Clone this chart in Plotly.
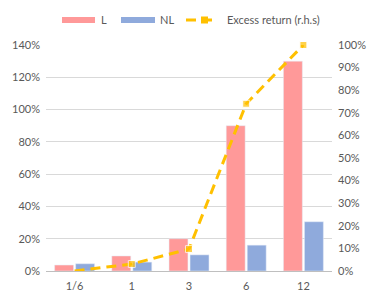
import plotly.graph_objects as go

categories = ["1/6", "1", "3", "6", "12"]
L_values = [0.037, 0.093, 0.20, 0.90, 1.30]
NL_values = [0.045, 0.055, 0.10, 0.16, 0.305]
excess_values = [0.0, 0.031, 0.097, 0.74, 1.00]
series_names = ["L", "NL", "Excess return (r.h.s)"]
colors = ["#FF9999", "#8FAADC", "#FFC000"]

W, H = 378, 303
ML, MR, MT, MB = 46, 46, 45, 32
PW, PH = W - ML - MR, H - MT - MB


def px(x):
    return (x - ML) / PW


def py(y):
    return (H - MB - y) / PH


fig = go.Figure()
fig.add_trace(go.Bar(x=categories, y=L_values, name=series_names[0], marker_color=colors[0]))
fig.add_trace(go.Bar(x=categories, y=NL_values, name=series_names[1], marker_color=colors[1]))
fig.add_trace(go.Scatter(x=categories, y=excess_values, name=series_names[2],
                         yaxis="y2", mode="lines+markers",
                         line=dict(color=colors[2], width=3, dash="10px,6px"),
                         marker=dict(symbol="square", size=[0, 7, 7, 7, 7], color=colors[2]),
                         cliponaxis=False))

font = dict(family="Lato, Open Sans, sans-serif", size=11, color="#595959")

# custom legend (wide swatches like the original)
shapes = [
    dict(type="rect", xref="paper", yref="paper", x0=px(62), x1=px(95), y0=py(23), y1=py(17),
         fillcolor=colors[0], line=dict(width=0)),
    dict(type="rect", xref="paper", yref="paper", x0=px(121), x1=px(155), y0=py(23), y1=py(17),
         fillcolor=colors[1], line=dict(width=0)),
    dict(type="line", xref="paper", yref="paper", x0=px(186), x1=px(218), y0=py(20), y1=py(20),
         line=dict(color=colors[2], width=3, dash="10px,6px")),
    dict(type="rect", xref="paper", yref="paper", x0=px(201), x1=px(208), y0=py(23.5), y1=py(16.5),
         fillcolor=colors[2], line=dict(width=0)),
]
annotations = [
    dict(text=series_names[0], xref="paper", yref="paper", x=px(99), y=py(19), xanchor="left",
         yanchor="middle", showarrow=False, font=font),
    dict(text=series_names[1], xref="paper", yref="paper", x=px(158), y=py(19), xanchor="left",
         yanchor="middle", showarrow=False, font=font),
    dict(text=series_names[2], xref="paper", yref="paper", x=px(225), y=py(19), xanchor="left",
         yanchor="middle", showarrow=False, font=font),
]

fig.update_layout(
    width=W, height=H, autosize=False,
    margin=dict(l=ML, r=MR, t=MT, b=MB, autoexpand=False),
    plot_bgcolor="white", paper_bgcolor="white",
    font=font,
    barmode="group", bargap=0.265, bargroupgap=0.1,
    showlegend=False, hovermode=False,
    shapes=shapes, annotations=annotations,
    xaxis=dict(showgrid=False, showline=True, linecolor="#BFBFBF", linewidth=1,
               ticks="", tickfont=font, automargin=False, ticklabelstandoff=5),
    yaxis=dict(range=[0, 1.4], dtick=0.2, tickformat=".0%", showgrid=True,
               gridcolor="#D9D9D9", gridwidth=1, zeroline=False, tickfont=font,
               showline=False, ticks="", automargin=False, ticklabelstandoff=5),
    yaxis2=dict(range=[0, 1.0], dtick=0.1, tickformat=".0%", overlaying="y",
                side="right", showgrid=False, zeroline=False, tickfont=font,
                showline=False, ticks="", automargin=False, ticklabelstandoff=5),
)
fig.write_html("out.html", config={"displayModeBar": False},
               post_script="document.body.style.margin='0';")
